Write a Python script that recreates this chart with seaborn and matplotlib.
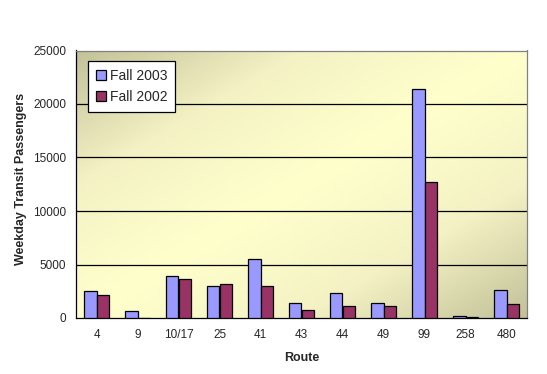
import matplotlib
matplotlib.use("Agg")
import matplotlib.pyplot as plt
import seaborn as sns
import numpy as np
import pandas as pd
from matplotlib.colors import LinearSegmentedColormap
from matplotlib.patches import Patch

routes = ["4", "9", "10/17", "25", "41", "43", "44", "49", "99", "258", "480"]
fall_2003 = [2530, 690, 3970, 3030, 5470, 1440, 2370, 1440, 21380, 190, 2630]
fall_2002 = [2160, 0, 3690, 3220, 3030, 780, 1120, 1120, 12700, 90, 1340]
series_names = ["Fall 2003", "Fall 2002"]
y_ticks = [0, 5000, 10000, 15000, 20000, 25000]

df = pd.DataFrame({
    "Route": routes * 2,
    "Passengers": fall_2003 + fall_2002,
    "Series": [series_names[0]] * len(routes) + [series_names[1]] * len(routes),
})

sns.set_theme(style="white")
plt.rcParams["font.family"] = ["Liberation Sans", "DejaVu Sans"]

fig = plt.figure(figsize=(5.47, 3.74), dpi=100)
ax = fig.add_axes([76 / 547, 56 / 374, 451 / 547, 267.5 / 374])

# gradient background
n = 200
xx, yy = np.meshgrid(np.linspace(0, 1, n), np.linspace(1, 0, n))
t = np.abs(xx - yy)
cmap = LinearSegmentedColormap.from_list("bg", ["#ffffcc", "#f4f2c4", "#c2c198"])
ax.imshow(t, cmap=cmap, extent=[0, 1, 0, 1], transform=ax.transAxes,
          aspect="auto", zorder=0, vmin=0, vmax=1, interpolation="bilinear")

palette = {"Fall 2003": "#9999ff", "Fall 2002": "#993366"}
sns.barplot(data=df, x="Route", y="Passengers", hue="Series", order=routes,
            hue_order=series_names, palette=palette, width=0.6, saturation=1,
            edgecolor="black", linewidth=0.9, ax=ax, legend=False, zorder=3)

ax.set_xlim(-0.5, len(routes) - 0.5)
ax.set_ylim(0, 25000)
ax.set_yticks(y_ticks)
ax.set_yticklabels([str(v) for v in y_ticks], fontsize=8.5)
ax.set_xticks(range(len(routes)))
ax.set_xticklabels(routes, fontsize=8.5)
ax.set_xticks(np.arange(-0.5, len(routes), 1.0), minor=True)
ax.tick_params(axis="x", which="major", length=0, pad=8)
ax.tick_params(axis="x", which="minor", length=4, width=0.9, color="black", direction="out")
ax.tick_params(axis="y", length=5, width=0.9, color="black", direction="out", pad=2)
for yv in y_ticks[1:-1]:
    ax.axhline(yv, color="black", lw=0.9, zorder=1)

for s in ["left", "bottom"]:
    ax.spines[s].set_color("black")
    ax.spines[s].set_linewidth(0.9)
for s in ["top", "right"]:
    ax.spines[s].set_color("#808080")
    ax.spines[s].set_linewidth(0.9)

ax.set_xlabel("Route", fontsize=9, fontweight="bold", labelpad=7.5)
ax.set_ylabel("Weekday Transit Passengers", fontsize=9, fontweight="bold")
ax.yaxis.set_label_coords(-0.109, 0.52)

handles = [Patch(facecolor=palette[s], edgecolor="black", linewidth=0.9, label=s)
           for s in series_names]
leg = ax.legend(handles=handles, loc="upper left", bbox_to_anchor=(0.027, 0.961),
                borderaxespad=0, fontsize=10, frameon=True, fancybox=False,
                edgecolor="black", framealpha=1, handlelength=0.7, handleheight=0.7,
                handletextpad=0.3, labelspacing=0.55, borderpad=0.55)
leg.get_frame().set_linewidth(0.9)
leg.set_zorder(5)

fig.savefig("out.png", dpi=100)
